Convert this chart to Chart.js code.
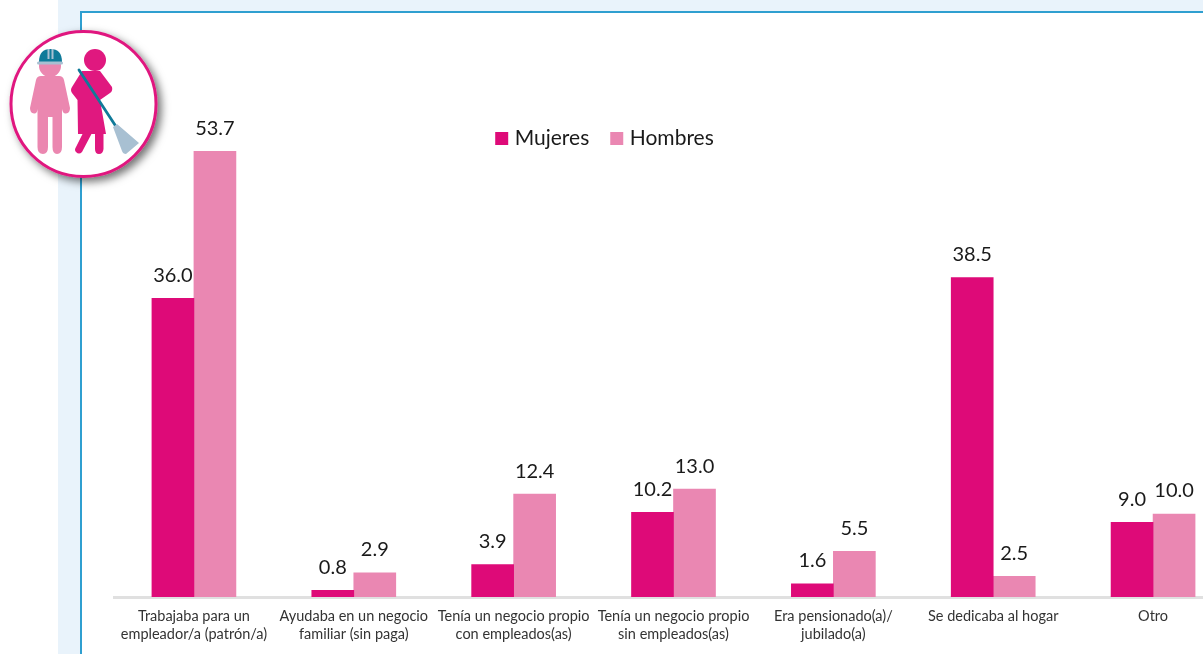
<!DOCTYPE html>
<html lang="es">
<head>
<meta charset="utf-8">
<script src="https://cdn.jsdelivr.net/npm/chart.js@4/dist/chart.umd.js"></script>
<style>
html,body{margin:0;padding:0;width:1203px;height:654px;overflow:hidden;background:#fff}
#strip{position:absolute;left:58px;top:0;width:1145px;height:654px;background:#e9f3fb}
#frame{position:absolute;left:80px;top:11px;width:1130px;height:660px;background:#fff;border:2px solid #2f9fd0;box-sizing:border-box}
#wrap{position:absolute;left:0;top:0;width:1300px;height:654px}
#icon{position:absolute;left:0;top:20px;width:170px;height:170px;overflow:visible}
</style>
</head>
<body>
<div id="strip"></div>
<div id="frame"></div>
<div id="wrap"><canvas id="c" width="1300" height="654"></canvas></div>
<svg id="icon" viewBox="0 20 170 170" aria-hidden="true">
  <defs><filter id="s" x="-20%" y="-20%" width="150%" height="150%"><feDropShadow dx="4" dy="4" stdDeviation="4" flood-color="#000" flood-opacity=".55"/></filter></defs>
  <circle cx="83.5" cy="104" r="72.5" fill="#fff" stroke="#e0187f" stroke-width="3" filter="url(#s)"/>
  <g fill="#eb87b0">
    <circle cx="50" cy="66" r="11"/>
    <path d="M41 76H59Q63 76 64 80L70 108Q70 113 66 113.5Q63 114 62 109V147Q62 154 57 154Q52.5 154 52.5 147V117H48V147Q48 154 43 154Q37.5 154 37.5 147V109Q37 114 34 113.5Q30 113 30 108L36 80Q37 76 41 76Z"/>
  </g>
  <path d="M39 62Q39 49 50.500 49T62 62Z" fill="#0f7a99"/>
  <rect x="37" y="61.500" width="26" height="3" rx="1.500" fill="#a8c0d2"/>
  <rect x="47.500" y="49" width="2" height="10" fill="#a8c0d2"/><rect x="51.500" y="49" width="2" height="10" fill="#a8c0d2"/>
  <g fill="#e0187f">
    <circle cx="95" cy="60" r="11"/>
    <path d="M82 71H100L112 87Q113 91 110 93L100 100L106 134H78L77.500 100L72 93Q70 90 72 87Z"/>
    <path d="M83 133H92L82 152Q79 155 76 152Q74 150 76 147ZM95 133H103.500V149Q103 154 99 154Q95 154 95 149Z"/>
  </g>
  <path d="M79 70L115 125" stroke="#0f7a99" stroke-width="2.800" stroke-linecap="round"/>
  <path d="M113 127L117 124L139 143L126 154Q123 154 122 151Z" fill="#a8c0d2"/>
</svg>
<script>
const categories = [
  ["Trabajaba para un", "empleador/a (patrón/a)"],
  ["Ayudaba en un negocio", "familiar (sin paga)"],
  ["Tenía un negocio propio", "con empleados(as)"],
  ["Tenía un negocio propio", "sin empleados(as)"],
  ["Era pensionado(a)/", "jubilado(a)"],
  "Se dedicaba al hogar",
  "Otro"
];
const mujeres = [36.0, 0.8, 3.9, 10.2, 1.6, 38.5, 9.0];
const hombres = [53.7, 2.9, 12.4, 13.0, 5.5, 2.5, 10.0];
const FONT = "Lato, 'Open Sans', sans-serif";

const valueLabels = {
  id: "valueLabels",
  afterDatasetsDraw(chart) {
    const ctx = chart.ctx;
    ctx.save();
    ctx.font = "20px " + FONT;
    ctx.fillStyle = "#1a1a1a";
    ctx.textAlign = "center";
    ctx.textBaseline = "middle";
    chart.data.datasets.forEach((ds, i) => {
      chart.getDatasetMeta(i).data.forEach((bar, j) => {
        ctx.fillText(ds.data[j].toFixed(1), bar.x, bar.y - 23);
      });
    });
    ctx.restore();
  }
};
const moveLegend = {
  id: "moveLegend",
  afterLayout(chart) {
    const l = chart.legend, h = l.height, w = l.width;
    l.left = 606.5 - w / 2; l.right = l.left + w;
    l.top = 131 - h / 2; l.bottom = l.top + h;
  }
};
new Chart(document.getElementById("c"), {
  type: "bar",
  data: {
    labels: categories,
    datasets: [
      { label: "Mujeres", data: mujeres, backgroundColor: "#de0a78", borderWidth: 0 },
      { label: "Hombres", data: hombres, backgroundColor: "#ea87b2", borderWidth: 0 }
    ]
  },
  options: {
    responsive: false,
    animation: false,
    layout: { padding: { left: 114, right: 67, top: 0, bottom: 0 } },
    datasets: { bar: { barThickness: 42 } },
    plugins: {
      tooltip: { enabled: false },
      legend: {
        position: "top",
        labels: {
          usePointStyle: true,
          pointStyle: "rect",
          boxWidth: 5, boxHeight: 13, padding: 25,
          color: "#1a1a1a",
          font: { family: FONT, size: 21 }
        }
      }
    },
    scales: {
      x: {
        afterFit(s) { s.height = 57; },
        grid: { display: false, drawTicks: false },
        border: { color: "#e0e0e0", width: 3 },
        ticks: { color: "#333", maxRotation: 0, autoSkip: false, padding: 11, font: { family: FONT, size: 14.5 } }
      },
      y: { display: false, min: 0, max: 65.2 }
    }
  },
  plugins: [valueLabels, moveLegend]
});
</script>
</body>
</html>
